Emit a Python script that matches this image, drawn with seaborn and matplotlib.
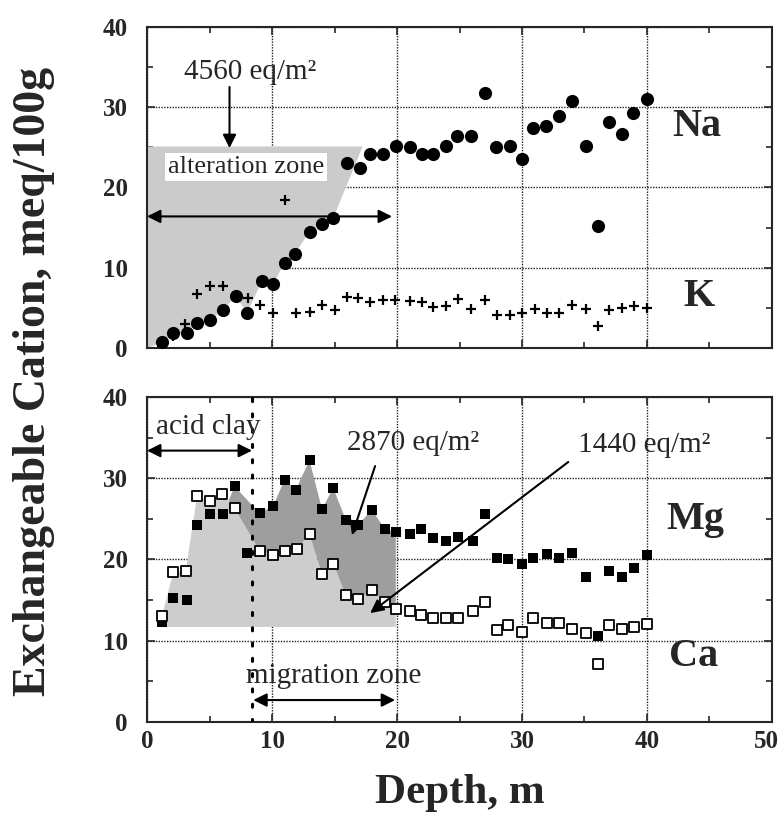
import numpy as np
import pandas as pd
import matplotlib.pyplot as plt
import matplotlib.transforms as mtransforms
import seaborn as sns

sns.set_style("ticks")
plt.rcParams['font.family'] = ['Liberation Serif', 'DejaVu Serif']

# upper panel: exchangeable Na (dots) and K (crosses)
na_depth = [1.2, 2.1, 3.2, 4.0, 5.0, 6.1, 7.1, 8.0, 9.2, 10.1, 11.0, 11.8, 13.0, 14.0, 14.9,
            16.0, 17.0, 17.8, 18.9, 19.9, 21.0, 22.0, 22.9, 23.9, 24.8, 25.9, 27.0, 27.9,
            29.0, 30.0, 30.9, 31.9, 33.0, 34.0, 35.1, 36.1, 37.0, 38.0, 38.9, 40.0]
na_val = [0.8, 1.9, 1.9, 3.1, 3.5, 4.8, 6.5, 4.4, 8.4, 8.0, 10.6, 11.7, 14.5, 15.5, 16.2,
          23.0, 22.4, 24.2, 24.2, 25.2, 25.0, 24.2, 24.2, 25.2, 26.4, 26.4, 31.7, 25.0,
          25.2, 23.5, 27.4, 27.6, 28.9, 30.7, 25.2, 15.2, 28.1, 26.7, 29.3, 31.0]
k_depth = [1.2, 2.1, 3.0, 4.0, 5.0, 6.1, 8.1, 9.0, 10.1, 11.0, 11.9, 13.0, 14.0, 15.0, 16.0,
           16.9, 17.8, 18.9, 19.8, 21.0, 22.0, 22.9, 23.9, 24.9, 25.9, 27.0, 28.0, 29.0,
           30.0, 31.0, 32.0, 33.0, 34.0, 35.1, 36.1, 37.0, 38.0, 39.0, 40.0]
k_val = [0.3, 1.5, 3.0, 6.8, 7.8, 7.8, 6.2, 5.4, 4.4, 18.4, 4.4, 4.5, 5.4, 4.8, 6.4,
         6.2, 5.7, 6.0, 6.0, 5.9, 5.7, 5.1, 5.3, 6.1, 4.9, 6.0, 4.1, 4.1,
         4.4, 4.9, 4.4, 4.4, 5.4, 4.9, 2.8, 4.8, 5.0, 5.3, 5.0]

# lower panel: exchangeable Mg (filled squares) and Ca (open squares)
mg_depth = [1.2, 2.1, 3.2, 4.0, 5.0, 6.1, 7.0, 8.0, 9.0, 10.1, 11.0, 11.9, 13.0, 14.0, 14.9,
            15.9, 16.9, 18.0, 19.0, 19.9, 21.0, 21.9, 22.9, 23.9, 24.9, 26.1, 27.0, 28.0,
            28.9, 30.0, 30.9, 32.0, 33.0, 34.0, 35.1, 36.1, 37.0, 38.0, 39.0, 40.0]
mg_val = [12.3, 15.2, 15.0, 24.3, 25.6, 25.6, 29.0, 20.8, 25.7, 26.6, 29.8, 28.6, 32.2, 26.2,
          28.8, 24.9, 24.3, 26.1, 23.8, 23.4, 23.1, 23.8, 22.7, 22.3, 22.8, 22.3, 25.6, 20.2,
          20.0, 19.5, 20.2, 20.7, 20.2, 20.8, 17.8, 10.6, 18.6, 17.9, 18.9, 20.6]
ca_depth = [1.2, 2.1, 3.1, 4.0, 5.0, 6.0, 7.0, 9.0, 10.1, 11.0, 12.0, 13.0, 14.0, 14.9,
            15.9, 16.9, 18.0, 19.0, 19.9, 21.0, 21.9, 22.9, 23.9, 24.9, 26.1, 27.0, 28.0,
            28.9, 30.0, 30.9, 32.0, 33.0, 34.0, 35.1, 36.1, 37.0, 38.0, 39.0, 40.0]
ca_val = [13.0, 18.4, 18.6, 27.8, 27.2, 28.1, 26.3, 21.1, 20.6, 21.1, 21.3, 23.1, 18.2, 19.5,
          15.6, 15.1, 16.3, 14.8, 13.9, 13.6, 13.2, 12.8, 12.8, 12.8, 13.7, 14.8, 11.3,
          11.9, 11.1, 12.8, 12.2, 12.2, 11.5, 10.9, 7.1, 11.9, 11.4, 11.7, 12.1]

# hand-drawn zones
alt_top, alt_right = 25.1, 17.25     # alteration zone shading (upper panel)
mig_base = 11.7                      # base of Ca shading (lower panel)
acid_clay_edge = 8.4

fig = plt.figure(figsize=(7.82, 8.16), dpi=100)
ax1 = fig.add_axes([0.188, 0.5732, 0.7992, 0.3941])
ax2 = fig.add_axes([0.188, 0.1152, 0.7992, 0.3983])

ann_font = dict(fontsize=21)
lab_font = dict(fontsize=29, fontweight='bold')
arrow = dict(arrowstyle='-|>', color='black', lw=1.5, mutation_scale=20, shrinkA=0, shrinkB=0)
arrow2 = dict(arrowstyle='<|-|>', color='black', lw=1.5, mutation_scale=20, shrinkA=0, shrinkB=0)

for ax in (ax1, ax2):
    ax.set_xlim(0, 50)
    ax.set_ylim(0, 40)
    ax.set_xticks(np.arange(0, 51, 10))
    ax.set_yticks(np.arange(0, 41, 10))
    ax.set_xticks(np.arange(5, 50, 10), minor=True)
    ax.set_yticks(np.arange(5, 40, 10), minor=True)
    ax.tick_params(which='both', direction='in', top=True, right=True, width=1.2)
    ax.tick_params(which='major', length=6)
    ax.tick_params(which='minor', length=4)
    ax.tick_params(axis='y', pad=14)
    ax.tick_params(axis='x', pad=6)
    ax.grid(True, which='major', linestyle=(0, (1, 1)), color='#222222', lw=1.0)
    for s in ax.spines.values():
        s.set_linewidth(1.5)
    for lbl in ax.get_xticklabels() + ax.get_yticklabels():
        lbl.set_fontsize(18)
        lbl.set_fontweight('bold')
ax1.set_xticklabels([])

# keep the "50" inside the figure edge
last = ax2.get_xticklabels()[-1]
last.set_transform(last.get_transform() + mtransforms.ScaledTranslation(-4 / 72, 0, fig.dpi_scale_trans))

# ---- upper panel ----
k = na_depth.index(14.9)
zx = [0, 0, alt_right] + na_depth[k::-1]
zy = [0, alt_top, alt_top] + na_val[k::-1]
ax1.fill(zx, zy, color='#cbcbcb', lw=0, zorder=1)

sns.scatterplot(x=na_depth, y=na_val, marker='o', s=90, color='black', linewidth=0, ax=ax1, zorder=5)
sns.scatterplot(x=k_depth, y=k_val, marker='+', s=50, color='black', linewidth=1.6, ax=ax1, zorder=5)

ax1.text(7.95, 22.5, 'alteration zone', ha='center', va='center', fontsize=19,
         bbox=dict(facecolor='white', edgecolor='none', pad=2), zorder=6)
ax1.annotate('', xy=(6.6, 24.9), xytext=(6.6, 32.5), arrowprops=arrow, zorder=6)
ax1.text(8.25, 34.4, '4560 eq/m²', ha='center', va='center', **ann_font)
ax1.annotate('', xy=(19.6, 16.4), xytext=(0.0, 16.4), arrowprops=arrow2, zorder=6)
ax1.text(44.0, 27.6, 'Na', ha='center', va='center', **lab_font)
ax1.text(44.2, 6.4, 'K', ha='center', va='center', **lab_font)

# ---- lower panel ----
n = ca_depth.index(19.9)
lx = ca_depth[:n + 1] + [ca_depth[n], ca_depth[0]]
ly = ca_val[:n + 1] + [mig_base, mig_base]
ax2.fill(lx, ly, color='#cdcdcd', lw=0, zorder=1)

# dark zone: between Mg and Ca from where Mg rises above Ca to 20 m (8 m outlier skipped)
i0 = mg_depth.index(7.0)
j0 = ca_depth.index(7.0)
x1, y1, x2, y2 = mg_depth[i0 - 1], mg_val[i0 - 1], mg_depth[i0], mg_val[i0]
x3, y3, x4, y4 = ca_depth[j0 - 1], ca_val[j0 - 1], ca_depth[j0], ca_val[j0]
t = ((x1 - x3) * (y3 - y4) - (y1 - y3) * (x3 - x4)) / ((x1 - x2) * (y3 - y4) - (y1 - y2) * (x3 - x4))
tip = (x1 + t * (x2 - x1), y1 + t * (y2 - y1))
m_end = mg_depth.index(19.9)
dx = [tip[0], mg_depth[i0]] + mg_depth[i0 + 2:m_end + 1] + ca_depth[n:j0 - 1:-1]
dy = [tip[1], mg_val[i0]] + mg_val[i0 + 2:m_end + 1] + ca_val[n:j0 - 1:-1]
ax2.fill(dx, dy, color='#9e9e9e', lw=0, zorder=1.2)

ax2.axvline(acid_clay_edge, color='black', linestyle=(0, (1, 4)), lw=2.2, dash_capstyle='round', zorder=3)

sns.scatterplot(x=mg_depth, y=mg_val, marker='s', s=55, color='black', linewidth=0, ax=ax2, zorder=5)
sns.scatterplot(x=ca_depth, y=ca_val, marker='s', s=45, color='white', edgecolor='black',
                linewidth=1.3, ax=ax2, zorder=5)

ax2.text(4.9, 36.3, 'acid clay', ha='center', va='center', **ann_font)
ax2.annotate('', xy=(acid_clay_edge, 33.4), xytext=(0.0, 33.4), arrowprops=arrow2, zorder=6)
ax2.text(21.3, 34.3, '2870 eq/m²', ha='center', va='center', **ann_font)
ax2.annotate('', xy=(16.4, 23.0), xytext=(18.25, 31.5), arrowprops=arrow, zorder=6)
ax2.text(39.8, 34.1, '1440 eq/m²', ha='center', va='center', **ann_font)
ax2.annotate('', xy=(17.85, 13.4), xytext=(33.7, 32.0), arrowprops=arrow, zorder=6)
ax2.text(14.9, 5.6, 'migration zone', ha='center', va='center', **ann_font)
ax2.annotate('', xy=(19.85, 2.7), xytext=(8.5, 2.7), arrowprops=arrow2, zorder=6)
ax2.text(43.9, 24.9, 'Mg', ha='center', va='center', **lab_font)
ax2.text(43.7, 8.0, 'Ca', ha='center', va='center', **lab_font)

fig.text(0.043, 0.532, 'Exchangeable Cation, meq/100g', rotation=90, ha='center', va='center',
         fontsize=33, fontweight='bold')
fig.text(0.5876, 0.028, 'Depth, m', ha='center', va='center', fontsize=31, fontweight='bold')

fig.savefig('out.png', dpi=100)
